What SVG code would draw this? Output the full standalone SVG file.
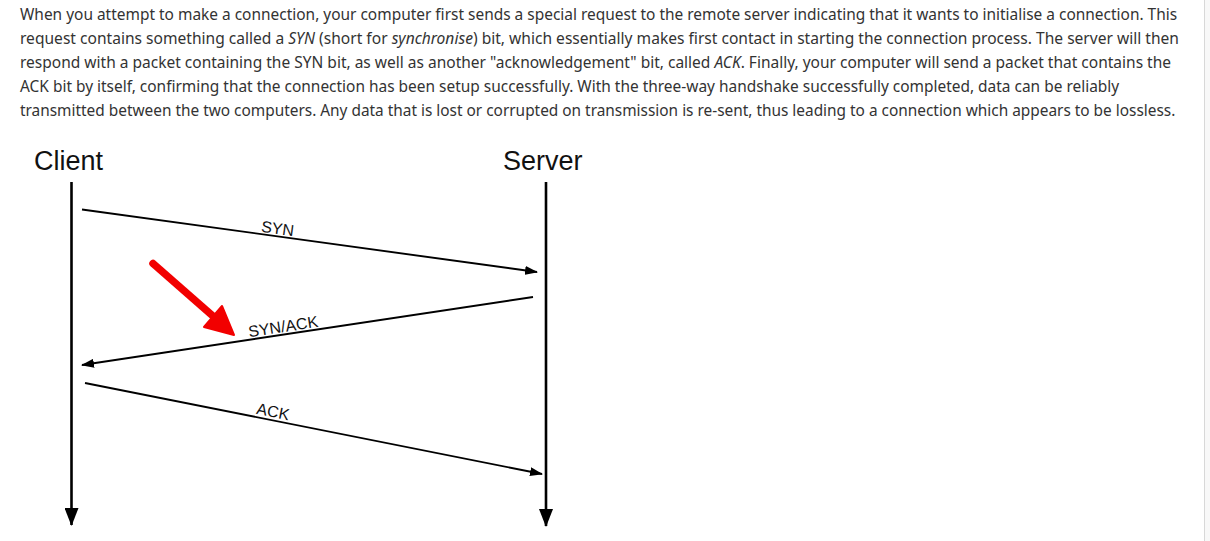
<svg xmlns="http://www.w3.org/2000/svg" width="1210" height="541" viewBox="0 0 1210 541">
<style>
.para{font-family:"Noto Sans","Open Sans",sans-serif;font-size:16px;fill:#333}
.it{font-style:italic}
.head{font-family:"Liberation Sans",Arial,sans-serif;font-size:27px;fill:#111}
.lbl{font-family:"Liberation Sans",Arial,sans-serif;font-size:16px;fill:#111;text-anchor:middle}
.life{stroke:#000;stroke-width:2.6;fill:none}
.msg{stroke:#000;stroke-width:1.9;fill:none}
</style>
<defs>
<marker id="ah" viewBox="0 0 13 9" refX="12" refY="4.5" markerWidth="13" markerHeight="9" markerUnits="userSpaceOnUse" orient="auto"><path d="M0,0 L13,4.5 L0,9 Z" fill="#000"/></marker>
<marker id="lh" viewBox="0 0 18 14" refX="17" refY="7" markerWidth="18" markerHeight="14" markerUnits="userSpaceOnUse" orient="auto"><path d="M0,0 L18,7 L0,14 Z" fill="#000"/></marker>
</defs>
<rect width="1210" height="541" fill="#fff"/>
<rect x="1204" y="0" width="6" height="541" fill="#f8f8f8"/>
<line x1="1204.5" y1="0" x2="1204.5" y2="541" stroke="#d8d8d8" stroke-width="1"/>
<g id="paragraph">
<text class="para" x="0" y="20" transform="translate(20,0) scale(0.966,1)">When you attempt to make a connection, your computer first sends a special request to the remote server indicating that it wants to initialise a connection. This</text>
<text class="para" x="0" y="44" transform="translate(20,0) scale(0.974,1)">request contains something called a <tspan class="it">SYN</tspan> (short for <tspan class="it">synchronise</tspan>) bit, which essentially makes first contact in starting the connection process. The server will then</text>
<text class="para" x="0" y="68" transform="translate(20,0) scale(0.970,1)">respond with a packet containing the SYN bit, as well as another "acknowledgement" bit, called <tspan class="it">ACK</tspan>. Finally, your computer will send a packet that contains the</text>
<text class="para" x="0" y="92" transform="translate(20,0) scale(0.966,1)">ACK bit by itself, confirming that the connection has been setup successfully. With the three-way handshake successfully completed, data can be reliably</text>
<text class="para" x="0" y="116" transform="translate(20,0) scale(0.963,1)">transmitted between the two computers. Any data that is lost or corrupted on transmission is re-sent, thus leading to a connection which appears to be lossless.</text>
</g>
<g id="client">
<text class="head" x="34" y="170">Client</text>
<line class="life" x1="71.5" y1="182" x2="71.5" y2="525" marker-end="url(#lh)"/>
</g>
<g id="server">
<text class="head" x="503" y="170">Server</text>
<line class="life" x1="546" y1="182" x2="546" y2="526" marker-end="url(#lh)"/>
</g>
<g id="connectors">
<line class="msg" x1="82" y1="209.5" x2="537" y2="272" marker-end="url(#ah)"/>
<line class="msg" x1="533" y1="297" x2="82" y2="365" marker-end="url(#ah)"/>
<line class="msg" x1="85" y1="383" x2="542" y2="474" marker-end="url(#ah)"/>
</g>
<g id="labels">
<text class="lbl" transform="translate(277,234) rotate(7.6)">SYN</text>
<text class="lbl" transform="translate(284,332) rotate(-8.6)">SYN/ACK</text>
<text class="lbl" transform="translate(272,417) rotate(11.3)">ACK</text>
</g>
<g id="red-arrow">
<line x1="153" y1="263.5" x2="214" y2="317" stroke="#f20000" stroke-width="7.5" stroke-linecap="round"/>
<polygon points="234,335 204,327 222,306" fill="#f20000" stroke="#f20000" stroke-width="2" stroke-linejoin="round"/>
</g>
</svg>
